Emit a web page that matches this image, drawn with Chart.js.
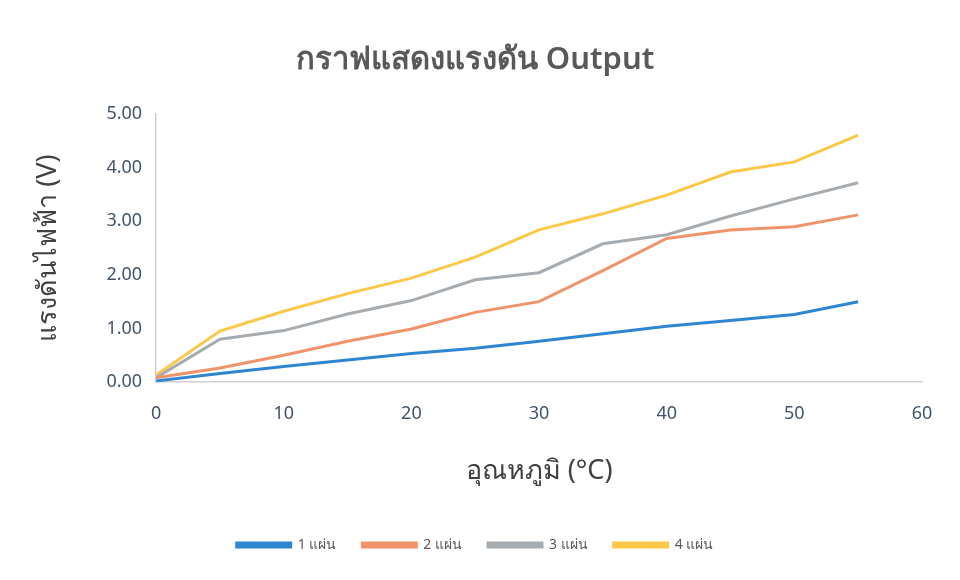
<!DOCTYPE html>
<html>
<head>
<meta charset="utf-8">
<script src="https://cdn.jsdelivr.net/npm/chart.js@4.4.0/dist/chart.umd.min.js"></script>
<style>
  html, body { margin: 0; padding: 0; background: #fff; }
  #wrap { width: 960px; height: 580px; }
</style>
</head>
<body>
<div id="wrap"><canvas id="chart"></canvas></div>
<script>
// temperature (°C)
const temps = [0, 5, 10, 15, 20, 25, 30, 35, 40, 45, 50, 55];

// voltage per number of plates
const plate1 = [0.02, 0.16, 0.29, 0.41, 0.53, 0.63, 0.76, 0.90, 1.04, 1.15, 1.26, 1.50];
const plate2 = [0.08, 0.26, 0.50, 0.76, 0.99, 1.30, 1.50, 2.08, 2.68, 2.84, 2.90, 3.12];
const plate3 = [0.08, 0.80, 0.96, 1.27, 1.52, 1.91, 2.04, 2.58, 2.75, 3.10, 3.42, 3.72];
const plate4 = [0.13, 0.95, 1.32, 1.65, 1.94, 2.33, 2.84, 3.14, 3.49, 3.92, 4.11, 4.61];

const seriesNames = ['1 แผ่น', '2 แผ่น', '3 แผ่น', '4 แผ่น'];
const seriesColors = ['#2e86d1', '#f0936a', '#a7acb0', '#fbc94a'];

const chartTitle = 'กราฟแสดงแรงดัน Output';
const xTitle = 'อุณหภูมิ (°C)';
const yTitle = 'แรงดันไฟฟ้า (V)';

const fontFamily = '"Noto Sans", "Open Sans", sans-serif';

const allSeries = [plate1, plate2, plate3, plate4];
const datasets = allSeries.map((vals, i) => ({
    label: seriesNames[i],
    data: temps.map((t, j) => ({ x: t, y: vals[j] })),
    borderColor: seriesColors[i],
    backgroundColor: seriesColors[i],
    borderWidth: 3,
    pointRadius: 0,
    tension: 0,
    fill: false
}));

new Chart(document.getElementById('chart'), {
    type: 'line',
    data: { datasets: datasets },
    options: {
        responsive: true,
        maintainAspectRatio: false,
        animation: false,
        layout: { padding: { left: 28, right: 38, top: 36, bottom: 18 } },
        plugins: {
            title: {
                display: true,
                text: chartTitle,
                color: '#595959',
                font: { family: fontFamily, size: 31, weight: '600' },
                padding: { top: 6, bottom: 35 }
            },
            legend: {
                position: 'bottom',
                labels: {
                    color: '#595959',
                    font: { family: fontFamily, size: 14 },
                    boxWidth: 54,
                    boxHeight: 4,
                    padding: 26
                }
            },
            tooltip: { enabled: false }
        },
        scales: {
            x: {
                type: 'linear',
                min: 0,
                max: 60,
                ticks: {
                    stepSize: 10,
                    color: '#44546a',
                    font: { family: fontFamily, size: 18 },
                    padding: 21
                },
                grid: { display: false, drawTicks: false },
                border: { color: '#d0d0d0', width: 1.5 },
                title: {
                    display: true,
                    text: xTitle,
                    color: '#404040',
                    font: { family: fontFamily, size: 27 },
                    padding: { top: 10, bottom: 24 }
                }
            },
            y: {
                min: 0,
                max: 5,
                ticks: {
                    stepSize: 1,
                    color: '#44546a',
                    font: { family: fontFamily, size: 18 },
                    padding: 14,
                    callback: v => v.toFixed(2)
                },
                grid: { display: false, drawTicks: false },
                border: { color: '#d0d0d0', width: 1.5 },
                title: {
                    display: true,
                    text: yTitle,
                    color: '#404040',
                    font: { family: fontFamily, size: 27 },
                    padding: { bottom: 28 }
                }
            }
        }
    }
});
</script>
</body>
</html>
